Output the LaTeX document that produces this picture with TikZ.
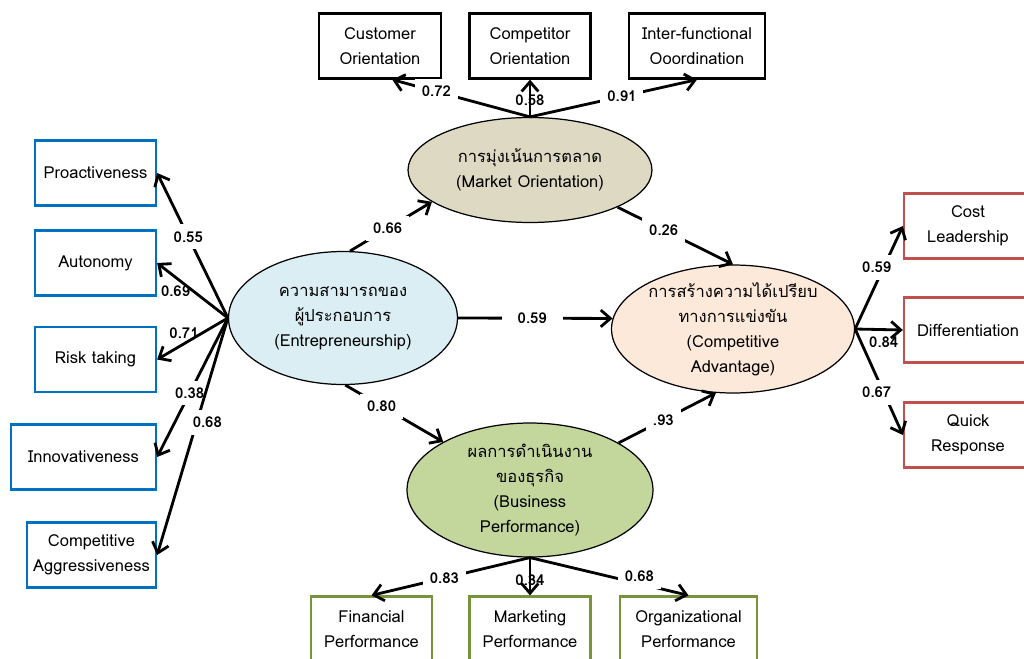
\documentclass[tikz,border=0pt]{standalone}
\usepackage{fontspec}
\setmainfont{Loma}[Script=Thai]
\usetikzlibrary{shapes.geometric,arrows.meta}
\definecolor{boxblue}{RGB}{0,112,192}
\definecolor{boxred}{RGB}{192,80,77}
\definecolor{boxgreen}{RGB}{119,147,60}
\definecolor{fillmo}{RGB}{221,217,195}
\definecolor{fillen}{RGB}{218,238,243}
\definecolor{fillca}{RGB}{253,233,217}
\definecolor{fillbp}{RGB}{195,214,155}

\begin{document}
\begin{tikzpicture}[x=0.02cm,y=-0.02cm,
  box/.style={draw,line width=1.3pt,minimum height=1.3cm,align=center,inner sep=1pt,font=\fontsize{9.4}{14.2}\selectfont},
  lat/.style={ellipse,draw,line width=0.7pt,align=center,inner xsep=0pt,inner ysep=-4pt,font=\fontsize{9.4}{14.2}\selectfont},
  arr/.style={line width=1.6pt,-{Straight Barb[length=5.5pt,width=9.5pt]}},
  lbl/.style={font=\fontsize{8.5}{10}\selectfont\bfseries,inner sep=1pt},
  gap/.style={lbl,fill=white,inner sep=4pt}]
  \useasboundingbox (0,0) rectangle (1024,659);

  \node[box,minimum width=2.45cm] (co) at (380,46) {Customer\\Orientation};
  \node[box,minimum width=2.42cm] (cp) at (530,46) {Competitor\\Orientation};
  \node[box,minimum width=2.72cm] (ic) at (697,46) {Inter-functional\\Ooordination};

  \node[box,draw=boxblue,minimum width=2.42cm] (pr) at (95.5,173) {Proactiveness};
  \node[box,draw=boxblue,minimum width=2.42cm] (au) at (95.5,263) {Autonomy};
  \node[box,draw=boxblue,minimum width=2.42cm] (rt) at (95.5,359.5) {Risk taking};
  \node[box,draw=boxblue,minimum width=2.9cm] (inn) at (83.5,457) {Innovativeness};
  \node[box,draw=boxblue,minimum width=2.58cm] (cg) at (91.5,555) {Competitive\\Aggressiveness};

  \node[box,draw=boxred,minimum width=2.56cm] (cl) at (968,226) {Cost\\Leadership};
  \node[box,draw=boxred,minimum width=2.56cm] (df) at (968,330) {Differentiation};
  \node[box,draw=boxred,minimum width=2.56cm] (qr) at (968,435) {Quick\\Response};

  \node[box,draw=boxgreen,minimum width=2.42cm] (fi) at (371.5,629) {Financial\\Performance};
  \node[box,draw=boxgreen,minimum width=2.42cm] (mk) at (530,629) {Marketing\\Performance};
  \node[box,draw=boxgreen,minimum width=2.74cm] (og) at (688.5,629) {Organizational\\Performance};

  \node[lat,fill=fillmo,minimum width=4.88cm,minimum height=2.1cm] (mo) at (530,170) {การมุ่งเน้นการตลาด\\(Market Orientation)};
  \node[lat,fill=fillen,minimum width=4.58cm,minimum height=2.66cm] (en) at (343,318) {ความสามารถของ\\ผู้ประกอบการ\\(Entrepreneurship)};
  \node[lat,fill=fillca,minimum width=4.86cm,minimum height=2.56cm] (ca) at (733,329) {การสร้างความได้เปรียบ\\ทางการแข่งขัน\\(Competitive\\Advantage)};
  \node[lat,fill=fillbp,minimum width=4.92cm,minimum height=2.68cm] (bp) at (530,490) {ผลการดำเนินงาน\\ของธุรกิจ\\(Business\\Performance)};

  \draw[arr] (mo.north) -- node[gap,pos=.68]{0.72} (co.-70);
  \draw[arr] (mo.north) -- node[lbl,pos=.46]{0.58} (cp.south);
  \draw[arr] (mo.north) -- node[gap,pos=.55]{0.91} (ic.south);

  \draw[arr] (en.west) -- node[gap,pos=.56]{0.55} (pr.east);
  \draw[arr] (en.west) -- node[lbl,pos=.74,below=3pt]{0.69} (au.east);
  \draw[arr] (en.west) -- node[lbl,pos=.62,yshift=6pt]{0.71} (rt.east);
  \draw[arr] (en.west) -- node[gap,pos=.54]{0.38} (inn.east);
  \draw[arr] (en.west) -- node[gap,pos=.44,xshift=6pt]{0.68} (cg.east);

  \draw[arr] (en.84) -- node[gap,pos=.46]{0.66} (mo.198);
  \draw[arr] (mo.-23) -- node[gap,pos=.4]{0.26} (ca.north);
  \draw[arr] (en.east) -- node[gap,pos=.48,inner xsep=9pt]{0.59} (ca.175);
  \draw[arr] (en.-88) -- node[gap,pos=.37]{0.80} (bp.151);
  \draw[arr] (bp.28) -- node[gap,pos=.46]{.93} (ca.255);

  \draw[arr] (ca.east) -- node[gap,pos=.6,xshift=-4pt]{0.59} (cl.west);
  \draw[arr] (ca.east) -- node[lbl,pos=.6,below=2pt]{0.84} (df.west);
  \draw[arr] (ca.east) -- node[gap,pos=.6,xshift=-4pt]{0.67} (qr.west);

  \draw[arr] (bp.south) -- node[gap,pos=.54]{0.83} (fi.north);
  \draw[arr] (bp.south) -- node[lbl,pos=.6]{0.34} (mk.north);
  \draw[arr] (bp.south) -- node[gap,pos=.69,yshift=4pt]{0.68} (og.north);
\end{tikzpicture}
\end{document}
